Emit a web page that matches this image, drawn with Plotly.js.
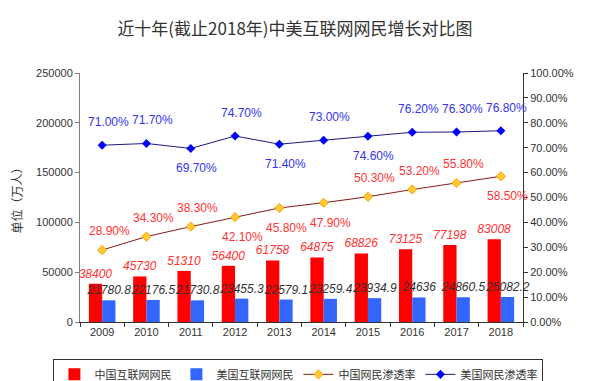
<!DOCTYPE html>
<html><head><meta charset="utf-8">
<script src="https://cdn.plot.ly/plotly-3.0.1.min.js"></script>
<style>html,body{margin:0;padding:0;background:#fff}#chart{width:590px;height:381px}</style>
</head><body><div id="chart"></div>
<script>
const years = ['2009','2010','2011','2012','2013','2014','2015','2016','2017','2018'];
const cnUsers = [38400, 45730, 51310, 56400, 61758, 64875, 68826, 73125, 77198, 83008];
const usUsers = [21780.8, 22176.5, 21730.8, 23455.3, 22579.1, 23259.4, 23934.9, 24636, 24860.5, 25082.2];
const cnRate = [0.289, 0.343, 0.383, 0.421, 0.458, 0.479, 0.503, 0.532, 0.558, 0.585];
const usRate = [0.710, 0.717, 0.697, 0.747, 0.714, 0.730, 0.746, 0.762, 0.763, 0.768];
const cnLabelSide = ['up','up','up','down','down','down','up','up','up','down'];
const usLabelSide = ['up','up','down','up','down','up','down','up','up','up'];

const font = 'Arial, "Liberation Sans", "Noto Sans CJK SC", sans-serif';
const cjk = '"Noto Sans CJK SC", Arial, sans-serif';

const traces = [
  {type:'bar', name:'中国互联网网民', x:years, y:cnUsers, marker:{color:'#ff0000'},
   text:cnUsers.map(String), texttemplate:'%{text}', textposition:'outside', constraintext:'none', cliponaxis:false,
   textfont:{family:font, size:12, color:'#ff3333', style:'italic'}},
  {type:'bar', name:'美国互联网网民', x:years, y:usUsers, marker:{color:'#3366ff'},
   text:usUsers.map(String), texttemplate:'%{text}', textposition:'outside', constraintext:'none', cliponaxis:false,
   textfont:{family:font, size:12, color:'#333333', style:'italic'}},
  {type:'scatter', mode:'lines+markers', name:'中国网民渗透率', x:years, y:cnRate, yaxis:'y2',
   line:{color:'#8b1a1a', width:1}, cliponaxis:false,
   marker:{symbol:'diamond', size:7, color:'#ffcc33', line:{color:'#ff9900', width:1}}},
  {type:'scatter', mode:'lines+markers', name:'美国网民渗透率', x:years, y:usRate, yaxis:'y2',
   line:{color:'#1a1a80', width:1}, cliponaxis:false,
   marker:{symbol:'diamond', size:7, color:'#0000ff'}}
];

const annotations = [];
function pct(v){ return (v*100).toFixed(2) + '%'; }
years.forEach((yr, i) => {
  annotations.push({x:i, y:cnRate[i], xref:'x', yref:'y2', text:pct(cnRate[i]), showarrow:false,
    xshift:7, yshift: cnLabelSide[i]==='up' ? 19 : -20,
    font:{family:font, size:12, color:'#ff3333'}});
  annotations.push({x:i, y:usRate[i], xref:'x', yref:'y2', text:pct(usRate[i]), showarrow:false,
    xshift:6, yshift: usLabelSide[i]==='up' ? 23 : -20,
    font:{family:font, size:12, color:'#3333ee'}});
});

const layout = {
  width:590, height:381,
  margin:{l:80, r:67, t:73, b:59, autoexpand:false},
  paper_bgcolor:'#ffffff', plot_bgcolor:'#ffffff',
  title:{text:'近十年(截止2018年)中美互联网网民增长对比图', x:0.5, xanchor:'center', y:0.925, yanchor:'middle',
    font:{family:cjk, size:17, color:'#333333'}},
  barmode:'group', bargap:0.4, bargroupgap:0,
  showlegend:true,
  legend:{orientation:'h', xref:'paper', x:-0.06, xanchor:'left', y:-0.148, yanchor:'top',
    bordercolor:'#333333', borderwidth:1, font:{family:cjk, size:11, color:'#333333'},
    traceorder:'normal', itemwidth:30, tracegroupgap:0, entrywidth:77, entrywidthmode:'pixels'},
  xaxis:{type:'category', range:[-0.5, years.length-0.5], autorange:false, showgrid:false, showline:true,
    linecolor:'#333333', linewidth:1,
    ticks:'outside', ticklen:4, tickcolor:'#333333', tickson:'boundaries', tickangle:0,
    tickfont:{family:font, size:11, color:'#333333'}},
  yaxis:{range:[0,250000], dtick:50000, tickformat:'d', showgrid:false, zeroline:false, showline:true,
    linecolor:'#808080', linewidth:1, ticks:'outside', ticklen:4, tickcolor:'#808080',
    tickfont:{family:font, size:11, color:'#333333'},
    title:{text:'单位（万人）', font:{family:cjk, size:12, color:'#333333'}, standoff:10}},
  yaxis2:{range:[0,1], dtick:0.1, tickformat:'.2%', overlaying:'y', side:'right',
    showgrid:false, zeroline:false, showline:true, linecolor:'#333333', linewidth:1,
    ticks:'outside', ticklen:4, tickcolor:'#333333',
    tickfont:{family:font, size:11, color:'#333333'}},
  annotations:annotations
};

Plotly.newPlot('chart', traces, layout, {displayModeBar:false, staticPlot:true});
</script></body></html>
